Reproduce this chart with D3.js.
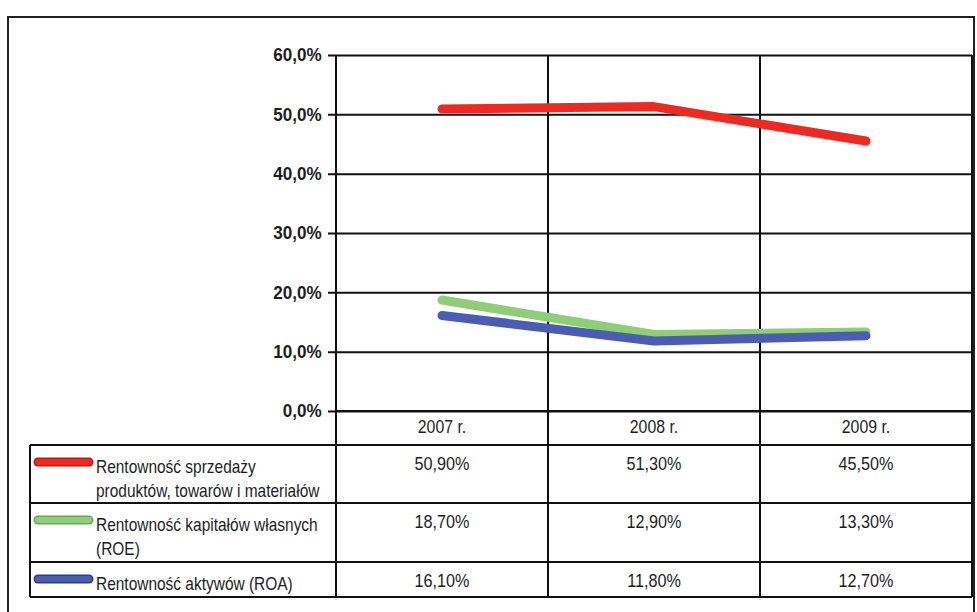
<!DOCTYPE html>
<html>
<head>
<meta charset="utf-8">
<script src="https://cdn.jsdelivr.net/npm/d3@7"></script>
<style>
body { margin: 0; background: #fff; }
svg text { font-family: "Liberation Sans", Arial, sans-serif; fill: #1e1e1e; }
</style>
</head>
<body>
<script>
const years = ['2007 r.', '2008 r.', '2009 r.'];
const seriesNames = [
    ['Rentowność sprzedaży', 'produktów, towarów i materiałów'],
    ['Rentowność kapitałów własnych', '(ROE)'],
    ['Rentowność aktywów (ROA)']
];
const salesValues = [50.9, 51.3, 45.5];
const roeValues = [18.7, 12.9, 13.3];
const roaValues = [16.1, 11.8, 12.7];
const tableLabels = [
    ['50,90%', '51,30%', '45,50%'],
    ['18,70%', '12,90%', '13,30%'],
    ['16,10%', '11,80%', '12,70%']
];
const yTicks = [0, 10, 20, 30, 40, 50, 60];
const colors = ['#ec2a22', '#8fcd78', '#4a5cb4'];
const edgeColors = ['#c01810', '#6aa858', '#2c3c8c'];

// condensed text: place at x,y then squeeze horizontally
function narrowText(sel, x, y, txt, size, sx, anchor) {
    return sel.append('text')
        .attr('transform', `translate(${x},${y}) scale(${sx},1)`)
        .attr('text-anchor', anchor || 'start')
        .attr('font-size', size)
        .text(txt);
}

window.addEventListener('load', function () {
    const svg = d3.select('body').append('svg')
        .attr('width', 977)
        .attr('height', 612);

    // outer frame
    svg.append('rect').attr('x', 8).attr('y', 17).attr('width', 966).attr('height', 600)
        .attr('fill', 'none').attr('stroke', '#222').attr('stroke-width', 2);

    const left = 336, right = 972, top = 55, bottom = 411;
    const xScale = d3.scaleBand().domain(years).range([left, right]);
    const yScale = d3.scaleLinear().domain([0, 60]).range([bottom, top]);

    // horizontal grid + ticks
    const yAxis = d3.axisLeft(yScale).tickValues(yTicks)
        .tickSize(-(right - left)).tickPadding(15)
        .tickFormat(d => d.toFixed(1).replace('.', ',') + '%');
    const ga = svg.append('g').attr('transform', `translate(${left},0)`).call(yAxis);
    ga.select('.domain').remove();
    ga.selectAll('.tick line').attr('x1', -8).attr('stroke', '#111').attr('stroke-width', 2);
    ga.selectAll('.tick text').attr('font-size', 18).attr('font-weight', 'bold')
        .attr('fill', '#1e1e1e').attr('transform', 'scale(0.95,1)');

    // vertical lines across plot and table
    const tableBottom = 597;
    const vx = years.map(d => xScale(d)).concat([right]);
    svg.selectAll('.vline').data(vx).enter().append('line')
        .attr('x1', d => d).attr('x2', d => d)
        .attr('y1', top).attr('y2', tableBottom)
        .attr('stroke', '#111').attr('stroke-width', 2);

    // table
    const rowTops = [445, 503, 562, 597];
    const tableLeft = 30;
    svg.append('line').attr('x1', left).attr('x2', right).attr('y1', bottom).attr('y2', bottom)
        .attr('stroke', '#111').attr('stroke-width', 2);
    svg.selectAll('.hrow').data(rowTops).enter().append('line')
        .attr('x1', tableLeft).attr('x2', right)
        .attr('y1', d => d).attr('y2', d => d)
        .attr('stroke', '#111').attr('stroke-width', 2);
    svg.append('line').attr('x1', tableLeft).attr('x2', tableLeft)
        .attr('y1', rowTops[0]).attr('y2', tableBottom)
        .attr('stroke', '#111').attr('stroke-width', 2);

    years.forEach(function (d) {
        narrowText(svg, xScale(d) + xScale.bandwidth() / 2, 433, d, 18, 0.88, 'middle');
    });

    tableLabels.forEach(function (row, i) {
        row.forEach(function (d, j) {
            narrowText(svg, xScale(years[j]) + xScale.bandwidth() / 2, rowTops[i] + 25, d, 18, 0.9, 'middle');
        });

        // legend swatch
        const sy = rowTops[i] + 17;
        svg.append('line').attr('x1', 38).attr('x2', 89).attr('y1', sy).attr('y2', sy)
            .attr('stroke', edgeColors[i]).attr('stroke-width', 9).attr('stroke-linecap', 'round');
        svg.append('line').attr('x1', 38).attr('x2', 89).attr('y1', sy).attr('y2', sy)
            .attr('stroke', colors[i]).attr('stroke-width', 6).attr('stroke-linecap', 'round');

        seriesNames[i].forEach(function (t, k) {
            narrowText(svg, 96, rowTops[i] + 28 + k * 24, t, 18, 0.86);
        });
    });

    // lines
    const allSeries = [salesValues, roeValues, roaValues];
    const line = d3.line()
        .x((d, j) => xScale(years[j]) + xScale.bandwidth() / 2)
        .y(d => yScale(d));
    allSeries.forEach(function (vals, i) {
        svg.append('path').datum(vals).attr('d', line)
            .attr('fill', 'none').attr('stroke', colors[i])
            .attr('stroke-width', 9).attr('stroke-linecap', 'round').attr('stroke-linejoin', 'round');
    });
});
</script>
</body>
</html>
